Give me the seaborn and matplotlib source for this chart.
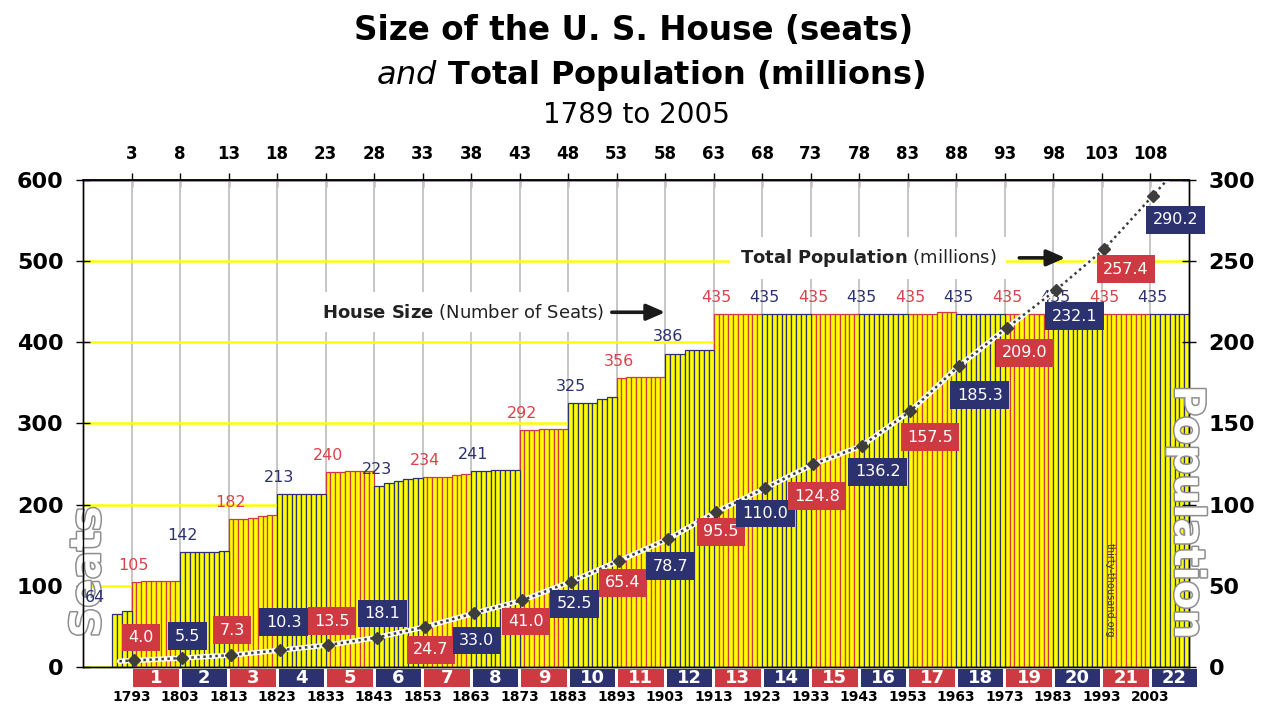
import numpy as np
import pandas as pd
import matplotlib
matplotlib.use("Agg")
import matplotlib.pyplot as plt
import matplotlib.patheffects as pe
from matplotlib.patches import Rectangle
import seaborn as sns

# ------------------------------------------------------------
# data
# ------------------------------------------------------------
FIRST_YEAR = 1789

# house size per congress, grouped by apportionment period
SEATS_PRE = [65, 69]                          # congress 1-2
SEATS_P1 = [105, 106, 106, 106, 106]          # 1793
SEATS_P2 = [142, 142, 142, 142, 143]          # 1803
SEATS_P3 = [182, 182, 184, 186, 187]          # 1813
SEATS_P4 = [213, 213, 213, 213, 213]          # 1823
SEATS_P5 = [240, 240, 242, 242, 242]          # 1833
SEATS_P6 = [223, 227, 229, 231, 233]          # 1843
SEATS_P7 = [234, 234, 234, 237, 238]          # 1853
SEATS_P8 = [241, 242, 243, 243, 243]          # 1863
SEATS_P9 = [292, 292, 293, 293, 293]          # 1873
SEATS_P10 = [325, 325, 325, 330, 332]         # 1883
SEATS_P11 = [356, 357, 357, 357, 357]         # 1893
SEATS_P12 = [386, 386, 391, 391, 391]         # 1903
SEATS_P13_ON = [435] * 23 + [437, 437] + [435] * 24   # 1913 onwards (congress 63-111)

PERIOD_YEARS = [1793, 1803, 1813, 1823, 1833, 1843, 1853, 1863, 1873, 1883, 1893,
                1903, 1913, 1923, 1933, 1943, 1953, 1963, 1973, 1983, 1993, 2003]
PERIOD_NUMBERS = [1, 2, 3, 4, 5, 6, 7, 8, 9, 10, 11, 12, 13, 14, 15, 16, 17, 18, 19, 20, 21, 22]

HOUSE_LABEL_YEARS = [1789] + PERIOD_YEARS
HOUSE_LABELS = [64, 105, 142, 182, 213, 240, 223, 234, 241, 292, 325, 356, 386,
                435, 435, 435, 435, 435, 435, 435, 435, 435, 435]

POPULATION = [4.0, 5.5, 7.3, 10.3, 13.5, 18.1, 24.7, 33.0, 41.0, 52.5, 65.4,
              78.7, 95.5, 110.0, 124.8, 136.2, 157.5, 185.3, 209.0, 232.1, 257.4, 290.2]

TOP_CONGRESS_TICKS = [3, 8, 13, 18, 23, 28, 33, 38, 43, 48, 53, 58, 63, 68, 73,
                      78, 83, 88, 93, 98, 103, 108]
SEAT_TICKS = [0, 100, 200, 300, 400, 500, 600]
POP_TICKS = [0, 50, 100, 150, 200, 250, 300]

# label placement (pixels, dx / dy-up) for the population boxes
POP_LABEL_OFFSETS = [(7, 23), (5, 22), (1, 25), (4, 28), (4, 24), (6, 24),
                     (6, -23), (3, -27), (4, -21), (4, -22), (4, -22), (3, -27),
                     (5, -20), (1, -25), (4, -32), (16, -26), (20, -26), (21, -29),
                     (18, -25), (19, -26), (22, -20), (23, -24)]

# ------------------------------------------------------------
# style
# ------------------------------------------------------------
YELLOW = "#ffff00"
RED = "#cf3a42"
NAVY = "#2c3170"
RED_TXT = "#d9434a"
GRID_GRAY = "#c6c6c6"
PX = 0.72  # points per pixel at dpi 100

sns.set_theme(style="white")
plt.rcParams["font.family"] = ["DejaVu Sans"]

# one bar per year, two years per congress
seats_by_congress = (SEATS_PRE + SEATS_P1 + SEATS_P2 + SEATS_P3 + SEATS_P4 + SEATS_P5 +
                     SEATS_P6 + SEATS_P7 + SEATS_P8 + SEATS_P9 + SEATS_P10 + SEATS_P11 +
                     SEATS_P12 + SEATS_P13_ON)
rows = []
for i, s in enumerate(seats_by_congress):
    congress = i + 1
    period = 0 if congress < 3 else (congress - 3) // 5 + 1
    for y in (FIRST_YEAR + 2 * i, FIRST_YEAR + 2 * i + 1):
        rows.append({"year": y + 0.5, "seats": s, "period": period})
bars = pd.DataFrame(rows)

fig = plt.figure(figsize=(12.62, 7.04), dpi=100)
ax = fig.add_axes([0.0658, 0.0526, 0.8764, 0.6918])

for odd, edge in ((True, RED), (False, NAVY)):
    sub = bars[(bars["period"] % 2 == 1) == odd]
    sns.barplot(data=sub, x="year", y="seats", native_scale=True, width=1,
                color=YELLOW, saturation=1, edgecolor=edge, linewidth=0.9,
                errorbar=None, ax=ax)

ax.set_xlim(1783, 2011)
ax.set_ylim(0, 600)
ax.set_axisbelow(True)
ax.grid(axis="y", color=YELLOW, lw=1.8)
ax.grid(axis="x", color=GRID_GRAY, lw=1.4)
for sp in ax.spines.values():
    sp.set_color("black")
    sp.set_linewidth(1)

ax.set_xlabel("")
ax.set_ylabel("")
ax.set_yticks(SEAT_TICKS, labels=[str(t) for t in SEAT_TICKS], fontweight="bold", fontsize=16)
ax.tick_params(axis="y", direction="inout", length=10, width=1, pad=9, colors="black")
ax.set_xticks(PERIOD_YEARS, labels=[str(y) for y in PERIOD_YEARS], fontweight="bold", fontsize=10)
ax.tick_params(axis="x", direction="out", length=4, width=1, pad=12.5, colors="black")

# top axis: congress numbers
top = ax.secondary_xaxis("top", functions=(lambda yr: (yr - FIRST_YEAR) / 2 + 1,
                                           lambda c: (c - 1) * 2 + FIRST_YEAR))
top.set_xticks(TOP_CONGRESS_TICKS, labels=[str(c) for c in TOP_CONGRESS_TICKS],
               fontweight="bold", fontsize=12)
top.tick_params(direction="inout", length=10, width=1, pad=7, colors="black")
top.spines["top"].set_color("black")

# house size labels
for k, (yr, lab) in enumerate(zip(HOUSE_LABEL_YEARS, HOUSE_LABELS)):
    start = bars.loc[bars["year"] == yr + 0.5, "seats"].iloc[0]
    color = RED_TXT if k % 2 == 1 else NAVY
    dx = -14 if k == 0 else 0
    ax.annotate(str(lab), xy=(yr + 0.5, start), xytext=(dx, 12), textcoords="offset points",
                ha="center", va="center", fontsize=11.5, color=color, zorder=6,
                annotation_clip=False)

# period boxes under the axis
xtrans = ax.get_xaxis_transform()
for yr, num in zip(PERIOD_YEARS, PERIOD_NUMBERS):
    fc = RED if num % 2 == 1 else NAVY
    ax.add_patch(Rectangle((yr + 0.3, -0.041), 9.4, 0.036, transform=xtrans,
                           facecolor=fc, edgecolor="none", clip_on=False))
    ax.text(yr + 5, -0.023, str(num), transform=xtrans, ha="center", va="center",
            color="white", fontsize=13, fontweight="bold")

# axis title on the left, drawn as outlined white text (under the "64" label)
outline = [pe.withStroke(linewidth=2.2, foreground="#8e8e8e")]
ax.text(0.0697, 0.1875, "Seats", transform=fig.transFigure, rotation=90, ha="center",
        va="center", fontsize=30, fontweight="bold", color="white", path_effects=outline,
        zorder=5, clip_on=False)

# population on the right axis
ax2 = ax.twinx()
ax2.set_ylim(0, 300)
ax2.set_yticks(POP_TICKS, labels=[str(t) for t in POP_TICKS], fontweight="bold", fontsize=16)
ax2.tick_params(axis="y", direction="inout", length=10, width=1, pad=9, colors="black")
ax2.grid(False)
for sp in ax2.spines.values():
    sp.set_color("black")
    sp.set_linewidth(1)

px = np.array(PERIOD_YEARS) + 0.5
py = np.array(POPULATION)
slope_l = (py[1] - py[0]) / (px[1] - px[0])
slope_r = (py[-1] - py[-2]) / (px[-1] - px[-2])
line_x = np.r_[px[0] - 3, px, px[-1] + 8]
line_y = np.r_[py[0] - 3 * slope_l, py, py[-1] + 8 * slope_r]
ax2.plot(line_x, line_y, color="white", lw=3.8, solid_capstyle="round")
ax2.plot(line_x, line_y, color="#3d3d3d", lw=1.8, linestyle=(0, (1, 1.4)))
ax2.plot(px, py, linestyle="none", marker="D", markersize=6, color="#3d3d3d")

for k, (x, v, (dx, dy)) in enumerate(zip(px, py, POP_LABEL_OFFSETS)):
    fc = RED if PERIOD_NUMBERS[k] % 2 == 1 else NAVY
    ax2.annotate(f"{v:.1f}", xy=(x, v), xytext=(dx * PX, dy * PX), textcoords="offset points",
                 ha="center", va="center", color="white", fontsize=11.5,
                 bbox=dict(boxstyle="square,pad=0.4", fc=fc, ec="none"))

# callouts
ax.text(1890.5, 437, r"$\mathbf{House\ Size}$ (Number of Seats)", ha="right", va="center",
        fontsize=13, color="#222222", bbox=dict(boxstyle="square,pad=0.55", fc="white", ec="none"))
ax.annotate("", xy=(1903, 437), xytext=(1892, 437),
            arrowprops=dict(arrowstyle="-|>,head_length=0.8,head_width=0.35", lw=2.6,
                            color="#1a1a1a", shrinkA=0, shrinkB=0, mutation_scale=14))
ax.text(1971.2, 504, r"$\mathbf{Total\ Population}$ (millions)", ha="right", va="center",
        fontsize=13, color="#222222", bbox=dict(boxstyle="square,pad=0.55", fc="white", ec="none"))
ax.annotate("", xy=(1985.5, 504), xytext=(1976, 504),
            arrowprops=dict(arrowstyle="-|>,head_length=0.8,head_width=0.35", lw=2.6,
                            color="#1a1a1a", shrinkA=0, shrinkB=0, mutation_scale=14))

# titles
fig.text(0.502, 0.957, "Size of the U. S. House (seats)", ha="center", va="center",
         fontsize=23.5, fontweight="bold", color="black")
fig.text(0.516, 0.893, r"$\mathit{and}$ Total Population (millions)", ha="center", va="center",
         fontsize=23, fontweight="bold", color="black")
fig.text(0.504, 0.837, "1789 to 2005", ha="center", va="center", fontsize=20, color="black")

fig.text(0.9406, 0.2727, "Population", rotation=-90, ha="center", va="center", fontsize=30,
         fontweight="bold", color="white", path_effects=outline)
fig.text(0.8796, 0.162, "thirty-thousand.org", rotation=-90, ha="center", va="center",
         fontsize=7, color="#333333")

fig.savefig("out.png", dpi=100)
